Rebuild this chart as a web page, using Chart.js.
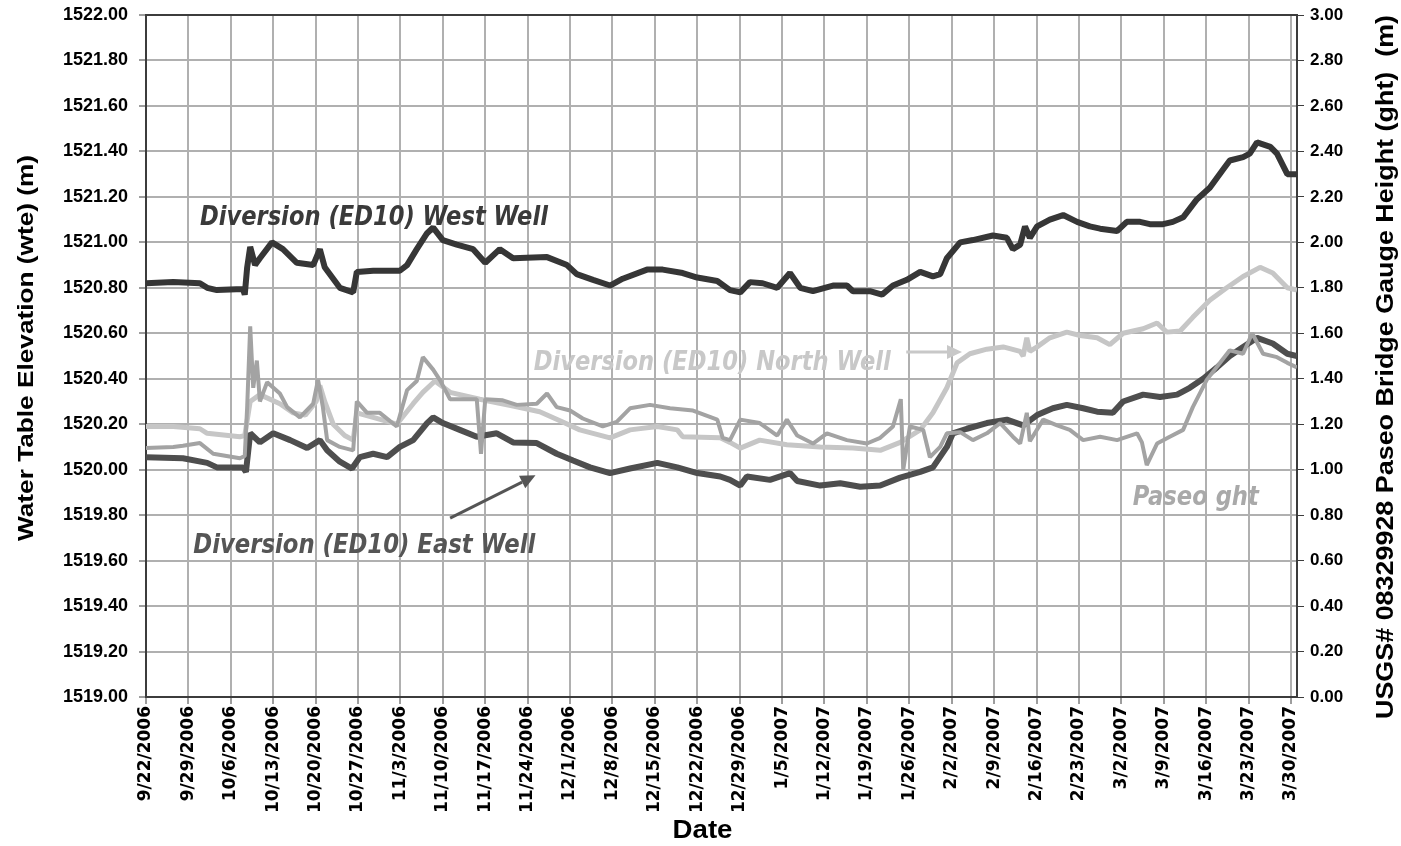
<!DOCTYPE html>
<html>
<head>
<meta charset="utf-8">
<title>Diversion (ED10) wells and Paseo gauge height</title>
<script src="https://cdn.jsdelivr.net/npm/chart.js@4.4.1/dist/chart.umd.min.js"></script>
<style>
  html, body { margin: 0; padding: 0; background: #fff; }
  #wrap { position: relative; width: 1401px; height: 846px; }
</style>
</head>
<body>
<div id="wrap"><canvas id="wteChart"></canvas></div>
<script>
'use strict';

// x values are days after 9/22/2006, one tick label per week
const dateLabels = [
  '9/22/2006', '9/29/2006', '10/6/2006', '10/13/2006', '10/20/2006', '10/27/2006',
  '11/3/2006', '11/10/2006', '11/17/2006', '11/24/2006', '12/1/2006', '12/8/2006',
  '12/15/2006', '12/22/2006', '12/29/2006', '1/5/2007', '1/12/2007', '1/19/2007',
  '1/26/2007', '2/2/2007', '2/9/2007', '2/16/2007', '2/23/2007', '3/2/2007',
  '3/9/2007', '3/16/2007', '3/23/2007', '3/30/2007'
];

// Diversion (ED10) West Well, wte (m)
const westDays = [0, 4.5, 8.9, 10.1, 11.7, 16.0, 16.3, 16.7, 17.2, 18.0, 18.8, 20.8, 22.6, 24.9,
  27.6, 28.7, 29.5, 32.0, 34.2, 34.8, 37.5, 41.9, 43.1, 44.7, 46.4, 47.4, 49.0, 51.3, 54.0, 56.0,
  58.4, 60.6, 66.2, 69.5, 71.1, 73.8, 76.6, 78.7, 82.7, 85.3, 88.6, 91.0, 94.3, 96.4, 98.1, 99.7,
  101.8, 104.2, 106.3, 108.0, 110.1, 113.4, 115.7, 116.7, 119.5, 121.5, 123.3, 125.6, 127.8,
  129.9, 131.1, 132.2, 134.4, 136.5, 139.8, 142.1, 143.1, 144.3, 145.1, 145.9, 147.1, 149.2,
  151.4, 153.7, 155.8, 157.5, 160.3, 161.9, 164.1, 165.7, 167.9, 169.5, 171.2, 173.5, 175.6,
  177.8, 178.9, 181.1, 182.2, 183.4, 185.6, 186.7, 188.4, 190.0];
const westWte = [1520.82, 1520.825, 1520.82, 1520.80, 1520.79, 1520.795, 1520.77, 1520.89, 1520.98,
  1520.90, 1520.93, 1521.00, 1520.97, 1520.91, 1520.90, 1520.97, 1520.89, 1520.80, 1520.78,
  1520.87, 1520.875, 1520.875, 1520.90, 1520.97, 1521.04, 1521.065, 1521.01, 1520.99, 1520.97,
  1520.91, 1520.97, 1520.93, 1520.935, 1520.90, 1520.86, 1520.835, 1520.81, 1520.84, 1520.88,
  1520.88, 1520.865, 1520.845, 1520.83, 1520.79, 1520.78, 1520.825, 1520.82, 1520.80, 1520.865,
  1520.80, 1520.785, 1520.81, 1520.81, 1520.785, 1520.785, 1520.77, 1520.81, 1520.835, 1520.87,
  1520.85, 1520.86, 1520.93, 1521.00, 1521.01, 1521.03, 1521.02, 1520.97, 1520.99, 1521.07,
  1521.02, 1521.07, 1521.10, 1521.12, 1521.09, 1521.07, 1521.06, 1521.05, 1521.09, 1521.09,
  1521.08, 1521.08, 1521.09, 1521.11, 1521.19, 1521.24, 1521.32, 1521.36, 1521.375, 1521.39,
  1521.44, 1521.42, 1521.39, 1521.30, 1521.30];

// Diversion (ED10) North Well, wte (m)
const northDays = [0, 4.5, 8.9, 10.1, 15.5, 16.3, 17.2, 18.8, 22.1, 24.3, 26.3, 28.1, 28.7, 29.5,
  30.9, 32.8, 34.2, 34.8, 37.5, 41.4, 44.1, 45.7, 47.7, 50.2, 55.1, 60.6, 65.0, 68.8, 71.6, 76.6,
  79.9, 84.4, 87.7, 88.6, 94.8, 96.4, 98.1, 101.3, 105.8, 111.3, 116.7, 121.2, 124.5, 127.8,
  129.9, 132.2, 133.9, 136.0, 138.8, 141.5, 144.3, 144.8, 145.4, 145.9, 147.1, 149.2, 152.0,
  154.2, 157.0, 159.1, 161.3, 164.6, 166.9, 168.5, 170.7, 172.8, 175.6, 178.4, 181.1, 183.9,
  186.0, 188.4, 190.0];
const northWte = [1520.19, 1520.19, 1520.18, 1520.16, 1520.145, 1520.15, 1520.30, 1520.33, 1520.29,
  1520.25, 1520.24, 1520.30, 1520.37, 1520.30, 1520.20, 1520.15, 1520.13, 1520.25, 1520.23,
  1520.20, 1520.29, 1520.34, 1520.39, 1520.34, 1520.31, 1520.28, 1520.255, 1520.21, 1520.175,
  1520.14, 1520.175, 1520.19, 1520.175, 1520.145, 1520.14, 1520.12, 1520.095, 1520.13, 1520.11,
  1520.10, 1520.095, 1520.085, 1520.12, 1520.175, 1520.25, 1520.36, 1520.47, 1520.51, 1520.53,
  1520.54, 1520.52, 1520.50, 1520.58, 1520.52, 1520.54, 1520.58, 1520.605, 1520.59, 1520.58,
  1520.55, 1520.60, 1520.62, 1520.645, 1520.605, 1520.61, 1520.67, 1520.745, 1520.80, 1520.85,
  1520.89, 1520.865, 1520.80, 1520.79];

// Diversion (ED10) East Well, wte (m)
const eastDays = [0, 6.1, 10.1, 11.7, 16.0, 16.5, 17.2, 18.8, 21.0, 23.8, 26.6, 28.7, 29.9, 32.0,
  34.0, 35.3, 37.5, 39.8, 41.9, 44.1, 46.4, 47.4, 49.0, 51.8, 54.6, 57.9, 60.6, 64.5, 67.8, 70.5,
  73.3, 76.6, 79.9, 84.4, 87.7, 91.0, 94.8, 96.4, 98.1, 99.2, 103.0, 106.3, 107.5, 111.3, 114.6,
  117.9, 121.2, 124.5, 127.8, 129.9, 132.2, 133.2, 135.5, 138.8, 142.1, 144.8, 147.1, 149.7,
  152.0, 154.7, 157.0, 159.6, 161.3, 164.6, 167.4, 170.2, 172.3, 174.5, 176.8, 178.9, 181.1,
  183.4, 186.0, 188.4, 190.0];
const eastWte = [1520.055, 1520.05, 1520.03, 1520.01, 1520.01, 1519.99, 1520.16, 1520.12, 1520.16,
  1520.13, 1520.095, 1520.13, 1520.085, 1520.035, 1520.005, 1520.055, 1520.07, 1520.055, 1520.10,
  1520.13, 1520.205, 1520.23, 1520.205, 1520.175, 1520.145, 1520.16, 1520.12, 1520.117, 1520.07,
  1520.04, 1520.01, 1519.985, 1520.005, 1520.03, 1520.01, 1519.985, 1519.97, 1519.955, 1519.93,
  1519.97, 1519.955, 1519.985, 1519.95, 1519.93, 1519.94, 1519.925, 1519.93, 1519.965, 1519.99,
  1520.01, 1520.10, 1520.16, 1520.18, 1520.205, 1520.22, 1520.195, 1520.24, 1520.27, 1520.285,
  1520.27, 1520.255, 1520.25, 1520.30, 1520.33, 1520.32, 1520.33, 1520.36, 1520.40, 1520.45,
  1520.50, 1520.54, 1520.58, 1520.555, 1520.51, 1520.50];

// USGS# 08329928 Paseo Bridge gauge height, ght (m), right axis
const paseoDays = [0, 4.5, 6.1, 8.9, 11.1, 15.5, 16.3, 16.7, 17.2, 17.7, 18.3, 18.8, 20.0, 22.1,
  23.3, 25.4, 27.6, 28.4, 29.2, 29.9, 32.0, 34.2, 34.8, 36.5, 38.6, 41.4, 43.1, 44.7, 45.7, 47.4,
  48.5, 50.2, 54.6, 55.3, 56.0, 58.9, 61.2, 64.5, 66.2, 67.8, 70.0, 72.1, 75.4, 77.7, 79.9, 83.2,
  86.5, 90.3, 94.3, 95.2, 96.4, 98.1, 101.3, 104.2, 105.8, 107.5, 110.1, 112.4, 115.7, 119.0,
  121.2, 123.3, 124.6, 125.0, 126.1, 128.3, 129.4, 131.1, 132.2, 134.4, 136.5, 138.8, 141.0,
  143.1, 144.3, 145.4, 145.9, 148.1, 150.4, 152.5, 154.7, 157.5, 160.3, 163.6, 164.4, 165.2,
  166.9, 169.0, 171.2, 172.8, 175.1, 177.3, 178.9, 181.1, 182.6, 184.4, 186.7, 188.4, 190.0];
const paseoGht = [1.095, 1.10, 1.105, 1.117, 1.07, 1.05, 1.06, 1.275, 1.63, 1.36, 1.48, 1.30, 1.385,
  1.335, 1.275, 1.23, 1.29, 1.395, 1.275, 1.13, 1.10, 1.085, 1.30, 1.25, 1.25, 1.19, 1.35, 1.39,
  1.495, 1.44, 1.395, 1.31, 1.31, 1.07, 1.31, 1.305, 1.285, 1.29, 1.335, 1.275, 1.26, 1.225,
  1.19, 1.21, 1.27, 1.285, 1.27, 1.26, 1.22, 1.14, 1.13, 1.22, 1.205, 1.15, 1.22, 1.15, 1.115,
  1.16, 1.13, 1.115, 1.14, 1.19, 1.31, 1.00, 1.19, 1.175, 1.055, 1.10, 1.16, 1.165, 1.13, 1.16,
  1.205, 1.145, 1.115, 1.25, 1.125, 1.22, 1.195, 1.175, 1.13, 1.145, 1.13, 1.16, 1.12, 1.02,
  1.115, 1.145, 1.175, 1.275, 1.395, 1.47, 1.525, 1.51, 1.60, 1.51, 1.495, 1.47, 1.45];

const toPoints = (days, vals) => days.map((d, i) => ({ x: d, y: vals[i] }));

const tickFont = { family: 'Liberation Sans', weight: 'bold', size: 18 };
const axisDark = '#3c3c3c';
const gridGrey = '#b0b0b0';

// keep the y axes from pushing the plot top down
const fixVertical = width => s => {
  s.width = width;
  s.paddingTop = 0;
  s.paddingBottom = 0;
};

// free text, arrows and axis titles drawn over the chart
function drawFitted(ctx, text, x, y, width, font, color, align, angle) {
  ctx.save();
  ctx.font = font;
  const natural = ctx.measureText(text).width;
  ctx.translate(x, y);
  if (angle) ctx.rotate(angle);
  ctx.scale(width / natural, 1);
  ctx.fillStyle = color;
  ctx.textAlign = align;
  ctx.textBaseline = 'alphabetic';
  ctx.fillText(text, 0, 0);
  ctx.restore();
}

function drawArrow(ctx, x1, y1, x2, y2, color) {
  const a = Math.atan2(y2 - y1, x2 - x1);
  const len = 15, half = 7;
  ctx.save();
  ctx.strokeStyle = color;
  ctx.fillStyle = color;
  ctx.lineWidth = 3;
  ctx.beginPath();
  ctx.moveTo(x1, y1);
  ctx.lineTo(x2 - Math.cos(a) * len, y2 - Math.sin(a) * len);
  ctx.stroke();
  ctx.beginPath();
  ctx.moveTo(x2, y2);
  ctx.lineTo(x2 - Math.cos(a) * len - Math.sin(a) * half, y2 - Math.sin(a) * len + Math.cos(a) * half);
  ctx.lineTo(x2 - Math.cos(a) * len + Math.sin(a) * half, y2 - Math.sin(a) * len - Math.cos(a) * half);
  ctx.closePath();
  ctx.fill();
  ctx.restore();
}

const seriesLabels = [
  { text: 'Diversion (ED10) West Well', day: 8.9, wte: 1521.077, width: 348, color: '#3a3a3a' },
  { text: 'Diversion (ED10) North Well', day: 64.0, wte: 1520.437, width: 357, color: '#c8c8c8' },
  { text: 'Diversion (ED10) East Well', day: 7.8, wte: 1519.633, width: 342, color: '#555555' },
  { text: 'Paseo ght', day: 162.9, wte: 1519.845, width: 126, color: '#a9a9a9' }
];

const overlayPlugin = {
  id: 'overlay',
  afterDraw(chart) {
    const ctx = chart.ctx;
    const sx = chart.scales.x, sy = chart.scales.y;
    const area = chart.chartArea;
    const labelFont = 'italic bold 26px "DejaVu Sans"';

    seriesLabels.forEach(l => {
      drawFitted(ctx, l.text, sx.getPixelForValue(l.day), sy.getPixelForValue(l.wte),
        l.width, labelFont, l.color, 'left', 0);
    });

    // North Well pointer and East Well pointer
    drawArrow(ctx, sx.getPixelForValue(125.5), sy.getPixelForValue(1520.518),
      sx.getPixelForValue(134.7), sy.getPixelForValue(1520.518), '#c8c8c8');
    drawArrow(ctx, sx.getPixelForValue(50.2), sy.getPixelForValue(1519.787),
      sx.getPixelForValue(64.3), sy.getPixelForValue(1519.975), '#555555');

    // axis titles
    const titleFont = 'bold 22px "Liberation Sans"';
    drawFitted(ctx, 'Water Table Elevation (wte) (m)', 33, 348,
      386, titleFont, '#000', 'center', -Math.PI / 2);
    drawFitted(ctx, 'USGS# 08329928 Paseo Bridge Gauge Height (ght)  (m)', chart.width - 8,
      367, 704, 'bold 24px "Liberation Sans"', '#000', 'center', -Math.PI / 2);
    drawFitted(ctx, 'Date', (area.left + area.right) / 2 - 19, 838, 60,
      'bold 26px "Liberation Sans"', '#000', 'center', 0);
  }
};

new Chart(document.getElementById('wteChart'), {
  type: 'line',
  data: {
    datasets: [
      {
        label: 'Paseo ght',
        data: toPoints(paseoDays, paseoGht),
        yAxisID: 'y2',
        borderColor: '#a3a3a3',
        borderWidth: 4
      },
      {
        label: 'Diversion (ED10) East Well',
        data: toPoints(eastDays, eastWte),
        yAxisID: 'y',
        borderColor: '#4e4e4e',
        borderWidth: 6
      },
      {
        label: 'Diversion (ED10) North Well',
        data: toPoints(northDays, northWte),
        yAxisID: 'y',
        borderColor: '#c6c6c6',
        borderWidth: 5
      },
      {
        label: 'Diversion (ED10) West Well',
        data: toPoints(westDays, westWte),
        yAxisID: 'y',
        borderColor: '#363636',
        borderWidth: 6
      }
    ]
  },
  options: {
    responsive: true,
    maintainAspectRatio: false,
    animation: false,
    layout: { padding: { top: 15, left: 0, right: 0, bottom: 0 } },
    elements: {
      point: { radius: 0 },
      line: { tension: 0, borderJoinStyle: 'bevel', fill: false }
    },
    plugins: {
      legend: { display: false },
      tooltip: { enabled: false }
    },
    scales: {
      x: {
        type: 'linear',
        min: 0,
        max: 190,
        afterBuildTicks: s => { s.ticks = dateLabels.map((_, i) => ({ value: i * 7 })); },
        afterFit: s => { s.height = 149; },
        ticks: {
          autoSkip: false,
          minRotation: 90,
          maxRotation: 90,
          padding: 2,
          color: '#000',
          font: { family: 'DejaVu Sans', weight: 'bold', size: 17 },
          callback: (v, i) => dateLabels[i]
        },
        grid: { color: gridGrey, lineWidth: 2, tickLength: 7, tickColor: axisDark, tickWidth: 1 },
        border: { color: axisDark, width: 2 }
      },
      y: {
        position: 'left',
        min: 1519,
        max: 1522,
        afterFit: fixVertical(146),
        ticks: {
          stepSize: 0.2,
          padding: 11,
          color: '#000',
          font: tickFont,
          callback: v => v.toFixed(2)
        },
        grid: {
          color: c => (c.tick && c.tick.value === 1522 ? axisDark : gridGrey),
          lineWidth: 2,
          tickLength: 7,
          tickColor: axisDark,
          tickWidth: 1
        },
        border: { color: axisDark, width: 2 }
      },
      y2: {
        position: 'right',
        min: 0,
        max: 3,
        afterFit: fixVertical(104),
        ticks: {
          stepSize: 0.2,
          padding: 6,
          color: '#000',
          font: { family: 'Liberation Sans', weight: 'bold', size: 17 },
          callback: v => v.toFixed(2)
        },
        grid: { drawOnChartArea: false, tickLength: 7, tickColor: axisDark, tickWidth: 1 },
        border: { color: axisDark, width: 2 }
      }
    }
  },
  plugins: [overlayPlugin]
});
</script>
</body>
</html>
